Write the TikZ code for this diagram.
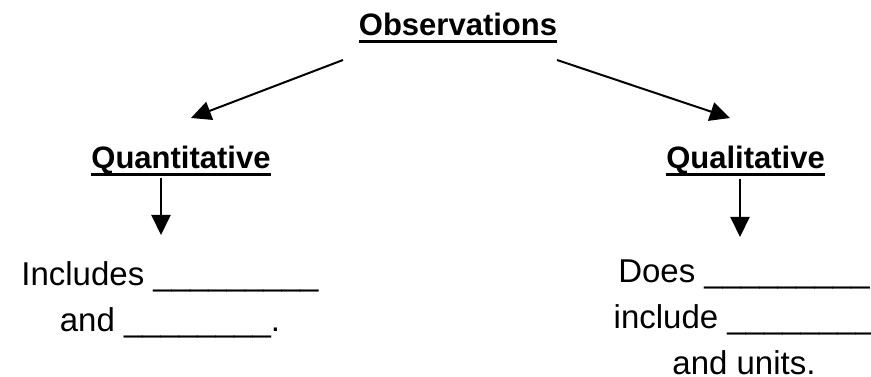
\documentclass[tikz,border=0pt]{standalone}
\usepackage{fontspec}
\setmainfont{Liberation Sans}
\usepackage{tikz}
\usetikzlibrary{positioning,arrows.meta}
\tikzset{
  titulo/.style={font=\fontsize{31}{37}\selectfont\bfseries, inner sep=0pt, anchor=base},
  texto/.style={font=\fontsize{33}{46}\selectfont, align=center, inner sep=0pt, anchor=base},
  flecha/.style={-{Triangle[length=20pt,width=19pt]}, line width=2pt},
  subraya/.style={line width=3pt},
}

\begin{document}
\begin{tikzpicture}[x=1pt,y=1pt]
  \useasboundingbox (0,0) rectangle (871,377);
  \clip (0,0) rectangle (871,377);
  \node[titulo] (obs) at (458,341) {Observations};
  \node[titulo] (quan) at (181,208) {Quantitative};
  \node[titulo] (qual) at (745.5,208) {Qualitative};
  \foreach \n in {obs,quan,qual}
    \draw[subraya] ([yshift=-5.5pt]\n.base west) -- ([yshift=-5.5pt]\n.base east);
  % multi-line nodes sit on their last baseline
  \node[texto] (inc) at (170,45.5) {Includes \_\_\_\_\_\_\_\_\_\\and \_\_\_\_\_\_\_\_.};
  \node[texto] (doe) at (744,2) {Does \_\_\_\_\_\_\_\_\_\\include \_\_\_\_\_\_\_\_\\and units.};
  \coordinate (o1) at (343,317); \coordinate (o2) at (557,317);
  \coordinate (q1) at (191,259); \coordinate (q2) at (730,259);
  \coordinate (a1) at (161,199); \coordinate (a2) at (161,142);
  \coordinate (b1) at (740,198); \coordinate (b2) at (740,140);
  \draw[flecha] (o1)--(q1); \draw[flecha] (o2)--(q2);
  \draw[flecha] (a1)--(a2); \draw[flecha] (b1)--(b2);
\end{tikzpicture}
\end{document}
